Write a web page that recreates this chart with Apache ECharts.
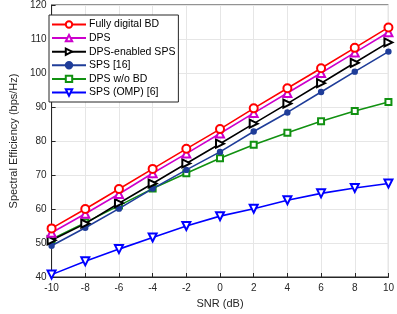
<!DOCTYPE html>
<html><head><meta charset="utf-8">
<script src="https://cdn.jsdelivr.net/npm/echarts@6/dist/echarts.min.js"></script>
<style>html,body{margin:0;padding:0;background:#fff}#c{width:397px;height:314px}</style>
</head><body><div id="c"></div>
<script>
const snr = [-10,-8,-6,-4,-2,0,2,4,6,8,10];
const fullyDigitalBD = [54.3,60.0,65.9,71.8,77.7,83.5,89.6,95.5,101.4,107.4,113.4];
const dps = [53.0,58.6,64.4,70.5,76.3,82.2,88.2,94.1,100.0,106.0,112.0];
const dpsEnabledSPS = [50.8,55.7,61.7,67.5,73.4,79.2,85.1,91.0,97.0,103.0,109.0];
const sps16 = [49.2,54.5,60.1,66.0,71.5,76.8,82.8,88.4,94.4,100.4,106.3];
const dpsWoBD = [51.1,56.0,61.0,66.0,70.5,74.9,78.9,82.4,85.8,88.8,91.5];
const spsOMP = [40.7,44.6,48.2,51.6,55.0,57.9,60.1,62.6,64.6,66.2,67.5];
const yTicks = [40,50,60,70,80,90,100,110,120];

const names = ['Fully digital BD','DPS','DPS-enabled SPS','SPS [16]','DPS w/o BD','SPS (OMP) [6]'];
const datas = [fullyDigitalBD,dps,dpsEnabledSPS,sps16,dpsWoBD,spsOMP];
const colors = ['#ff0000','#cc00cc','#000000','#1f3d99','#119111','#0000ff'];
const symbols = ['emptyCircle','emptyTriangle','emptyTriangle','circle','emptyRect','emptyTriangle'];
const rot = [0,0,-90,0,0,180];
const sizes = [8,8,8,5,6,8];

const series = names.map((n,i)=>({
  name:n, type:'line', data: snr.map((x,j)=>[x,datas[i][j]]),
  symbol:symbols[i], symbolRotate:rot[i], symbolSize:sizes[i], showAllSymbol:true,
  lineStyle:{color:colors[i], width:1.6},
  itemStyle:{color:colors[i], borderColor:colors[i], borderWidth:1.4},
  color:colors[i], animation:false, z:10-i
}));

const chart = echarts.init(document.getElementById('c'));
chart.setOption({
  animation:false,
  grid:{left:41,right:8,top:5,bottom:34,show:true,borderColor:'#262626',borderWidth:1},
  legend:{orient:'vertical',left:49,top:15,itemWidth:34,itemHeight:8,itemGap:0.6,
    backgroundColor:'#fff',borderColor:'#262626',borderWidth:1,padding:[3,3,3,2],
    textStyle:{fontSize:10.5,lineHeight:13,color:'#000',padding:[0,0,0,-2],fontFamily:'Liberation Sans, Arial'},
    data:names},
  xAxis:{type:'value',min:-10,max:10,interval:2,
    name:'SNR (dB)',nameLocation:'middle',nameGap:21,
    nameTextStyle:{fontSize:11,color:'#262626',fontFamily:'Liberation Sans, Arial'},
    axisLine:{show:true,onZero:false,lineStyle:{color:'#262626'}},
    axisTick:{show:true,inside:true,length:4,lineStyle:{color:'#262626'}},
    axisLabel:{fontSize:10,color:'#262626',margin:6,fontFamily:'Liberation Sans, Arial'},
    splitLine:{show:true,lineStyle:{color:'#e6e6e6'}}},
  yAxis:{type:'value',min:40,max:120,interval:10,
    name:'Spectral Efficiency (bps/Hz)',nameLocation:'middle',nameGap:24,
    nameTextStyle:{fontSize:11,color:'#262626',fontFamily:'Liberation Sans, Arial'},
    axisLine:{show:true,onZero:false,lineStyle:{color:'#262626'}},
    axisTick:{show:true,inside:true,length:4,lineStyle:{color:'#262626'}},
    axisLabel:{fontSize:10,color:'#262626',margin:5,fontFamily:'Liberation Sans, Arial',
      formatter:v=>yTicks.includes(v)?String(v):''},
    splitLine:{show:true,lineStyle:{color:'#e6e6e6'}}},
  series:series
});
</script></body></html>
